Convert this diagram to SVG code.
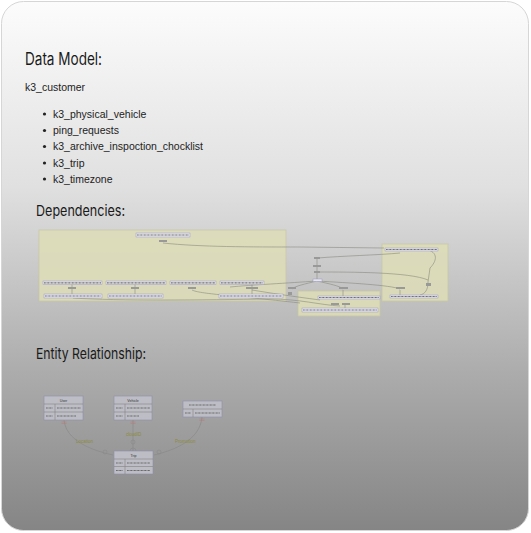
<svg xmlns="http://www.w3.org/2000/svg" width="531" height="533" viewBox="0 0 531 533">
<defs>
<linearGradient id="bg" x1="0" y1="0" x2="0" y2="1">
<stop offset="0" stop-color="#fcfcfc"/>
<stop offset="0.35" stop-color="#e0e0e0"/>
<stop offset="0.7" stop-color="#acacac"/>
<stop offset="1" stop-color="#858585"/>
</linearGradient>
<style>
.h{font-family:"Inter","Liberation Sans",sans-serif;fill:#1a1a1a}
.t{font-family:"Liberation Sans",Arial,sans-serif;fill:#222}
.cl{fill:#dedeb9;stroke:#c9c9a2;stroke-width:0.8;opacity:0.88}
.nd{fill:#e6e6ee;stroke:#9c98c0;stroke-width:0.5}
.tx{stroke:#555;stroke-width:1.2;stroke-dasharray:0.8 0.6}
.dl{fill:none;stroke:#8a8a80;stroke-width:0.6}
.lb{fill:#999;}
.eb{fill:#bdbdc6;stroke:#8e8ea8;stroke-width:0.6}
.er{fill:none;stroke:#8a8a8a;stroke-width:0.7}
.el{font-family:"Liberation Sans",Arial,sans-serif;font-size:4.5px;fill:#8c8c3a}
.et{font-family:"Liberation Sans",Arial,sans-serif;font-size:3.6px;fill:#333}
</style>
</defs>
<rect x="0" y="0" width="531" height="533" fill="#ffffff"/>
<rect x="1.5" y="1.5" width="527" height="529" rx="22" fill="url(#bg)" stroke="#d6d6d6" stroke-width="1"/>

<g id="text">
<text class="h" x="25" y="65" font-size="17" textLength="77" lengthAdjust="spacingAndGlyphs">Data Model:</text>
<text class="t" x="25" y="91" font-size="10.5">k3_customer</text>
<g class="t">
<circle cx="44.5" cy="114" r="1.6" fill="#222"/>
<text class="t" x="53" y="117.5" font-size="10.5">k3_physical_vehicle</text>
<circle cx="44.5" cy="130.5" r="1.6" fill="#222"/>
<text class="t" x="53" y="134" font-size="10.5">ping_requests</text>
<circle cx="44.5" cy="146.5" r="1.6" fill="#222"/>
<text class="t" x="53" y="150" font-size="10.5">k3_archive_inspoction_chocklist</text>
<circle cx="44.5" cy="163" r="1.6" fill="#222"/>
<text class="t" x="53" y="166.5" font-size="10.5">k3_trip</text>
<circle cx="44.5" cy="179" r="1.6" fill="#222"/>
<text class="t" x="53" y="182.5" font-size="10.5">k3_timezone</text>
</g>
<text class="h" x="36" y="216" font-size="15" textLength="89" lengthAdjust="spacingAndGlyphs">Dependencies:</text>
<text class="h" x="36" y="359" font-size="15" textLength="110" lengthAdjust="spacingAndGlyphs">Entity Relationship:</text>
</g>

<g id="dependencies">
<g id="clusters">
<rect class="cl" x="39" y="230" width="247" height="71"/>
<rect class="cl" x="382" y="244" width="66" height="57"/>
<rect class="cl" x="298" y="291" width="82" height="25"/>
</g>
<g id="dep-edges">
<path class="dl" d="M163 243 C 200 247, 250 247, 300 247 L 384 248"/>
<path class="dl" d="M400 253 C 380 255, 340 256, 318 258"/>
<path class="dl" d="M425 249 C 440 252, 436 262, 430 268 L 428 282 C 428 290, 425 294, 420 295"/>
<path class="dl" d="M318 272 C 350 272, 410 272, 428 280"/>
<path class="dl" d="M317 259 L 317 279"/>
<path class="dl" d="M317 281 C 305 284, 295 286, 292 289"/>
<path class="dl" d="M317 281 C 330 284, 340 286, 343 289"/>
<path class="dl" d="M317 281 C 350 283, 390 285, 400 289"/>
<path class="dl" d="M316 281 C 290 283, 250 285, 230 287"/>
<path class="dl" d="M73 298 C 120 301, 200 300, 270 299 C 300 299, 320 305, 340 306"/>
<path class="dl" d="M192 290 C 200 294, 230 295, 300 303"/>
<path class="dl" d="M252 290 C 270 293, 290 296, 320 300"/>
<path class="dl" d="M72 284 L 72 294"/>
<path class="dl" d="M135 284 L 135 294"/>
<path class="dl" d="M252 284 L 252 294"/>
<path class="dl" d="M343 290 L 343 296"/>
<path class="dl" d="M400 290 L 400 295"/>
<path class="dl" d="M345 304 L 345 308"/>
</g>
<g id="dep-nodes">
<g id="n-root"><rect class="nd" x="136" y="233" width="54" height="4"/><line class="tx" x1="137" y1="235" x2="189" y2="235"/></g>
<g id="n-root-l"><rect class="lb" x="159" y="240" width="8" height="2"/></g>
<g id="n-a1"><rect class="nd" x="43" y="281" width="59" height="3.5"/><line class="tx" x1="44" y1="282.8" x2="101" y2="282.8"/></g>
<g id="n-a2"><rect class="nd" x="106" y="281" width="60" height="3.5"/><line class="tx" x1="107" y1="282.8" x2="165" y2="282.8"/></g>
<g id="n-a3"><rect class="nd" x="170" y="281" width="46" height="3.5"/><line class="tx" x1="171" y1="282.8" x2="215" y2="282.8"/></g>
<g id="n-a4"><rect class="nd" x="220" y="281" width="44" height="3.5"/><line class="tx" x1="221" y1="282.8" x2="263" y2="282.8"/></g>
<g id="l-a"><rect class="lb" x="68" y="287" width="8" height="2"/><rect class="lb" x="131" y="287" width="8" height="2"/><rect class="lb" x="188" y="287" width="8" height="2"/><rect class="lb" x="246" y="287" width="12" height="2"/></g>
<g id="n-b1"><rect class="nd" x="44" y="294" width="58" height="4"/><line class="tx" x1="45" y1="296" x2="101" y2="296"/></g>
<g id="n-b2"><rect class="nd" x="108" y="294" width="55" height="4"/><line class="tx" x1="109" y1="296" x2="162" y2="296"/></g>
<g id="n-b3"><rect class="nd" x="219" y="294" width="64" height="4"/><line class="tx" x1="220" y1="296" x2="282" y2="296"/></g>
<g id="n-r1"><rect class="nd" x="385" y="248" width="53" height="3"/><line class="tx" x1="386" y1="249.5" x2="437" y2="249.5"/></g>
<g id="n-r2"><rect class="nd" x="390" y="295" width="48" height="3"/><line class="tx" x1="391" y1="296.5" x2="437" y2="296.5"/></g>
<g id="n-m"><rect class="lb" x="314" y="257" width="6" height="2"/><rect class="lb" x="313" y="265" width="8" height="2"/><rect class="lb" x="314" y="271" width="6" height="2"/><rect class="nd" x="313" y="279" width="9" height="2.5"/><rect class="lb" x="288" y="287" width="8" height="2"/><rect class="lb" x="339" y="287" width="9" height="2"/><rect class="lb" x="396" y="287" width="9" height="2"/><rect class="lb" x="426" y="283" width="5" height="3"/><rect class="lb" x="288" y="292" width="4" height="3"/></g>
<g id="n-c1"><rect class="nd" x="318" y="296" width="62" height="3"/><line class="tx" x1="319" y1="297.5" x2="379" y2="297.5"/></g>
<g id="n-c2"><rect class="lb" x="331" y="303" width="8" height="2"/><rect class="lb" x="342" y="303" width="8" height="2"/><rect class="nd" x="302" y="308" width="76" height="4"/><line class="tx" x1="303" y1="310" x2="377" y2="310"/></g>
</g>
</g>

<g id="er">
<g id="er-edges">
<path class="er" d="M64 420 C 66 440, 90 450, 113 455"/>
<path class="er" d="M133 420 L 133 451"/>
<path class="er" d="M202 417 C 200 440, 175 450, 154 455"/>
<text class="el" x="76" y="443">Location</text>
<text class="el" x="126" y="436">cloudID</text>
<text class="el" x="175" y="443">Promotion</text>
<circle cx="105" cy="452" r="2" fill="none" stroke="#8a8a8a" stroke-width="0.6"/>
<circle cx="133" cy="442" r="2" fill="none" stroke="#8a8a8a" stroke-width="0.6"/>
<circle cx="159" cy="452" r="2" fill="none" stroke="#8a8a8a" stroke-width="0.6"/>
<path d="M130 451 A3 3 0 0 1 136 451" fill="none" stroke="#8a8a8a" stroke-width="0.6"/>
<path d="M61.5 422 L66.5 422 M61.5 423.5 L66.5 423.5 M130.5 422 L135.5 422 M130.5 423.5 L135.5 423.5 M199.5 419 L204.5 419 M199.5 420.5 L204.5 420.5" stroke="#b87a7a" stroke-width="0.5"/>
</g>
<g id="e-user">
<rect class="eb" x="44" y="396" width="39" height="24"/>
<line class="er" x1="44" y1="404" x2="83" y2="404"/><line class="er" x1="44" y1="412" x2="83" y2="412"/><line class="er" x1="55" y1="404" x2="55" y2="420"/>
<text class="et" x="63.5" y="401.5" text-anchor="middle">User</text>
<line class="tx" x1="46" y1="408" x2="53" y2="408" stroke-width="1"/><line class="tx" x1="57" y1="408" x2="81" y2="408" stroke-width="1"/>
<line class="tx" x1="46" y1="416" x2="53" y2="416" stroke-width="1"/><line class="tx" x1="57" y1="416" x2="76" y2="416" stroke-width="1"/>
</g>
<g id="e-vehicle">
<rect class="eb" x="114" y="396" width="38" height="24"/>
<line class="er" x1="114" y1="404" x2="152" y2="404"/><line class="er" x1="114" y1="412" x2="152" y2="412"/><line class="er" x1="125" y1="404" x2="125" y2="420"/>
<text class="et" x="133" y="401.5" text-anchor="middle">Vehicle</text>
<line class="tx" x1="116" y1="408" x2="123" y2="408" stroke-width="1"/><line class="tx" x1="127" y1="408" x2="150" y2="408" stroke-width="1"/>
<line class="tx" x1="116" y1="416" x2="123" y2="416" stroke-width="1"/><line class="tx" x1="127" y1="416" x2="139" y2="416" stroke-width="1"/>
</g>
<g id="e-photo">
<rect class="eb" x="183" y="401" width="39" height="16"/>
<line class="er" x1="183" y1="409" x2="222" y2="409"/><line class="er" x1="193" y1="409" x2="193" y2="417"/>
<line class="tx" x1="189" y1="405" x2="216" y2="405" stroke-width="1"/>
<line class="tx" x1="185" y1="413" x2="191" y2="413" stroke-width="1"/><line class="tx" x1="195" y1="413" x2="220" y2="413" stroke-width="1"/>
</g>
<g id="e-trip">
<rect class="eb" x="114" y="451" width="39" height="23"/>
<line class="er" x1="114" y1="459" x2="153" y2="459"/><line class="er" x1="114" y1="466.5" x2="153" y2="466.5"/><line class="er" x1="125" y1="459" x2="125" y2="474"/>
<text class="et" x="133.5" y="456.5" text-anchor="middle">Trip</text>
<line class="tx" x1="116" y1="463" x2="123" y2="463" stroke-width="1"/><line class="tx" x1="127" y1="463" x2="150" y2="463" stroke-width="1"/>
<line class="tx" x1="116" y1="470.5" x2="123" y2="470.5" stroke-width="1"/><line class="tx" x1="127" y1="470.5" x2="150" y2="470.5" stroke-width="1"/>
</g>
</g>
</svg>
